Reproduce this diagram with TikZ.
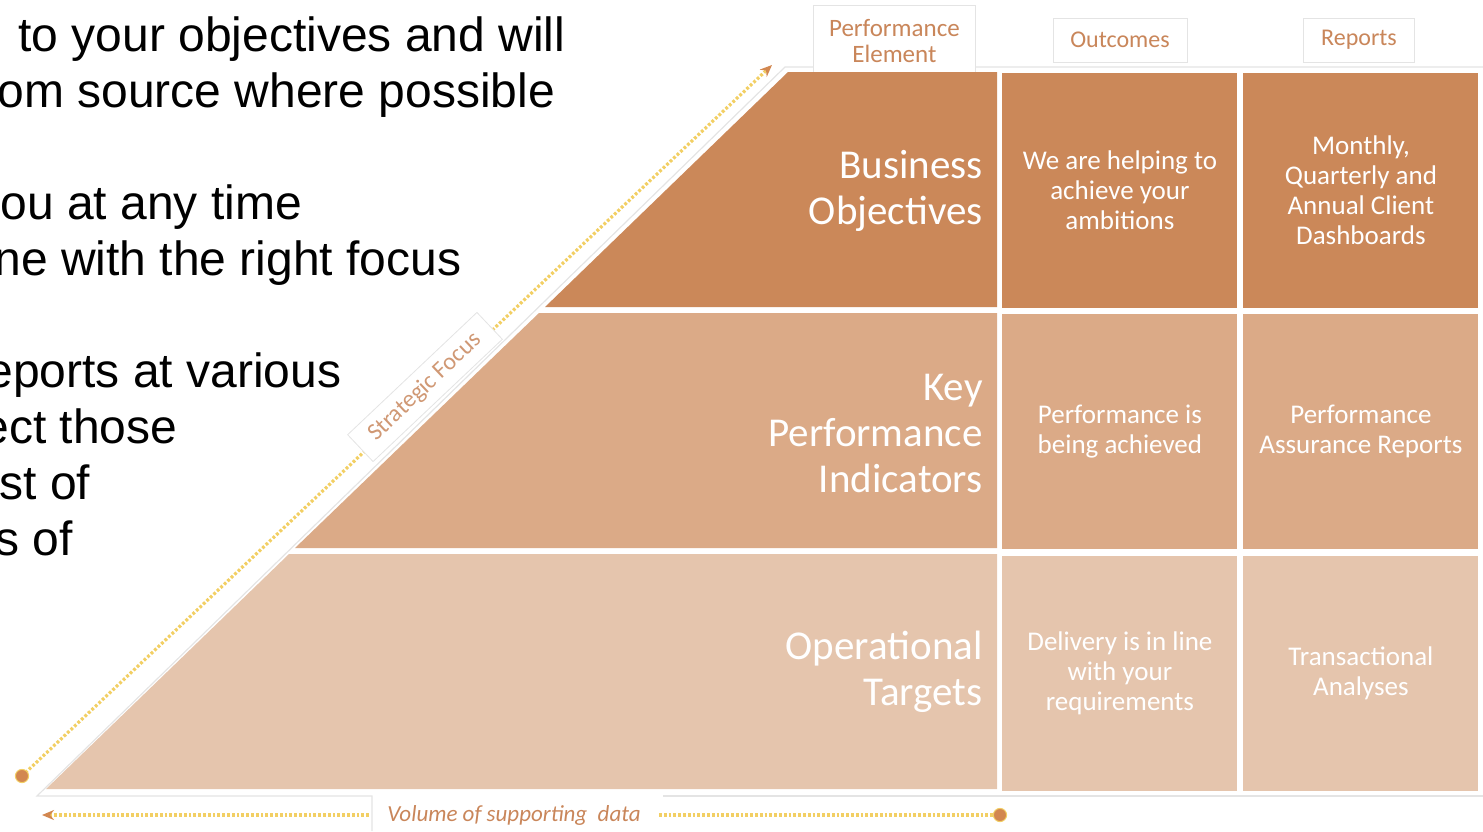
\documentclass[tikz,border=0pt]{standalone}
\usepackage{fontspec}
\setmainfont{Carlito}
\newfontfamily\arialfont{Liberation Sans}
\usetikzlibrary{matrix,arrows.meta}

\definecolor{tierA}{RGB}{203,136,89}
\definecolor{tierB}{RGB}{219,170,135}
\definecolor{tierC}{RGB}{229,197,173}
\definecolor{labelbrown}{RGB}{201,134,90}
\definecolor{softbrown}{RGB}{208,152,116}
\definecolor{dotyellow}{RGB}{242,207,100}
\definecolor{dotorange}{RGB}{210,135,80}
\definecolor{framegray}{RGB}{228,228,228}

\newcommand{\fsz}[2]{\fontsize{#1}{#2}\selectfont}

\tikzset{
  cell/.style={minimum width=117.5pt, minimum height=117.5pt,
    align=center, inner sep=0pt, text=white, font=\fsz{13.5}{15}},
  tier label/.style={anchor=east, align=right, text=white, inner sep=0pt, font=\fsz{20.5}{23}},
  tab/.style={draw=framegray, fill=white, inner sep=0pt, text=labelbrown},
  focus line/.style={dotyellow, line width=1.6pt, dash pattern=on 1.4pt off 1pt},
  body text/.style={anchor=base west, inner sep=0pt, font=\arialfont\fsz{24}{28}},
  frame/.style={framegray, line width=0.6pt}
}

\begin{document}
\begin{tikzpicture}[x=0.5pt, y=-0.5pt]
\useasboundingbox (0,0) rectangle (1483,831);

% text running in from the left
\foreach \x/\y/\txt in {18/51/to your objectives and will, -3/107/om source where possible,
  0/219/ou at any time, -6/275/ne with the right focus, -14/387/eports at various,
  -18/443/ect those, -1/499/st of, -5/555/s of}
  \node[body text] (line\y) at (\x,\y) {\txt};

% outline round the pyramid
\draw[frame] (1483,67) -- (785,67) -- (37,796) -- (372,796) -- (372,831);
\draw[frame] (663,796) -- (1483,796);

% column heads
\node[tab, anchor=north west, minimum width=81pt, minimum height=36pt, align=center,
  font=\fsz{12.5}{13}] (pe) at (813,5) {Performance\\Element};
\node[tab, minimum width=67pt, minimum height=22pt, font=\fsz{12}{13}] (oc) at (1120,40) {Outcomes};
\node[tab, minimum width=55.5pt, minimum height=22pt, font=\fsz{12}{13}] (rp) at (1359,40) {Reports};

% pyramid tiers
\fill[tierA] (788,72) -- (997,72) -- (997,307) -- (545,307) -- cycle;
\fill[tierB] (539,313) -- (997,313) -- (997,548) -- (295,548) -- cycle;
\fill[tierC] (289,554) -- (997,554) -- (997,789) -- (46,789) -- cycle;

\node[tier label] (obj) at (983,191) {Business\\Objectives};
\node[tier label] (kpi) at (983,433) {Key\\Performance\\Indicators};
\node[tier label] (ops) at (983,672) {Operational\\Targets};

% outcomes and reports
\matrix (m) [anchor=north west, inner sep=0pt, row sep=3pt, column sep=3pt] at (1002,72)
{
  \node[cell, fill=tierA] (out1) {We are helping to\\achieve your\\ambitions}; &
  \node[cell, fill=tierA] (rep1) {Monthly,\\Quarterly and\\Annual Client\\Dashboards}; \\
  \node[cell, fill=tierB] (out2) {Performance is\\being achieved}; &
  \node[cell, fill=tierB] (rep2) {Performance\\Assurance Reports}; \\
  \node[cell, fill=tierC] (out3) {Delivery is in line\\with your\\requirements}; &
  \node[cell, fill=tierC] (rep3) {Transactional\\Analyses}; \\
};

% strategic focus axis
\coordinate (sf-start) at (22,776);
\coordinate (sf-end) at (772,65);
\draw[focus line, -{Stealth[dotorange, length=6pt, width=5pt]}] (sf-start) -- (sf-end);
\node[tab, rotate=43.4, minimum width=89pt, minimum height=18.5pt, text=softbrown,
  font=\fsz{12}{12}] (sf) at (425,387) {Strategic Focus};
\fill[dotorange, draw=dotyellow, line width=0.5pt] (sf-start) circle (3.3pt);

% volume axis
\coordinate (vol-start) at (42,815);
\coordinate (vol-end) at (1000,815);
\node[inner xsep=9pt, inner ysep=0pt, text=labelbrown, font=\itshape\fsz{11.5}{12}]
  (vol) at (514,815) {Volume of supporting\ \ data};
\draw[focus line, -{Stealth[dotorange, length=6pt, width=5pt]}] (vol.west) -- (vol-start);
\draw[focus line] (vol.east) -- (vol-end);
\fill[dotorange, draw=dotyellow, line width=0.5pt] (vol-end) circle (3.3pt);
\end{tikzpicture}
\end{document}
